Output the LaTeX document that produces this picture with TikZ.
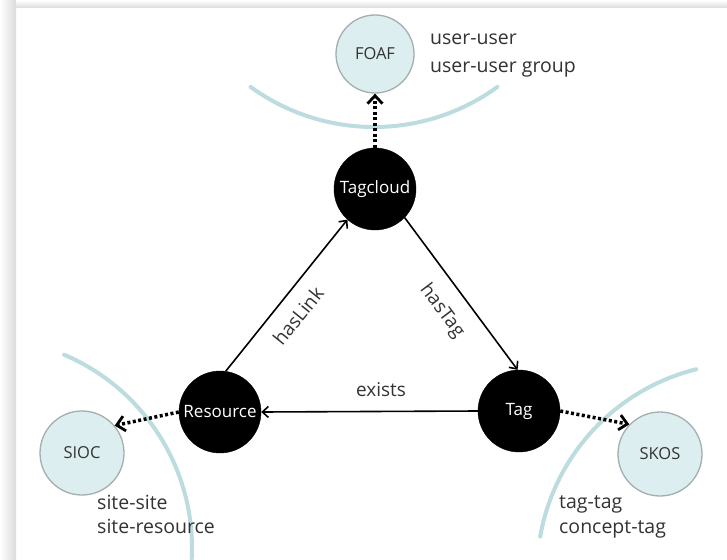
\documentclass[tikz,border=0pt]{standalone}
\usepackage{fontspec}
\setmainfont{Open Sans}
\usetikzlibrary{arrows.meta,calc}
\definecolor{arcc}{HTML}{BCDCDF}
\definecolor{lightfill}{HTML}{DDEEF0}
\definecolor{lightdraw}{HTML}{A3AEAE}
\definecolor{txt}{HTML}{333333}
\begin{document}
\begin{tikzpicture}[x=1pt,y=-1pt,
  core/.style={circle,fill=black,draw=black,minimum size=82pt,inner sep=0pt,text=white,font=\fontsize{17}{20}\selectfont},
  vocab/.style={circle,fill=lightfill,draw=lightdraw,line width=1.3pt,minimum size=84pt,inner sep=0pt,text=txt,font=\fontsize{16.5}{18}\selectfont},
  rel/.style={line width=1.6pt,-{Straight Barb[length=6pt,width=11pt,line width=1.6pt]}},
  maps/.style={line width=3.5pt,dash pattern=on 3pt off 2.5pt,-{Straight Barb[length=8pt,width=15pt,line width=2.8pt]}},
  scopearc/.style={draw=arcc,line width=4pt,line cap=round},
  lbl/.style={text=txt,font=\fontsize{19}{22}\selectfont,inner sep=0pt},
  note/.style={text=txt,inner sep=0pt,anchor=base west,font=\fontsize{19.5}{24}\selectfont}
]
\useasboundingbox (0,0) rectangle (727,559);
\fill[white] (0,0) rectangle (727,559);
\shade[left color=white,right color=black!14] (0,0) rectangle (16,559);
\shade[top color=white,bottom color=black!14] (16,0) rectangle (727,8);

% scope arcs
\draw[scopearc] ($(374,-83)+(234:210pt)$) arc[start angle=234,end angle=306,radius=210pt];
\draw[scopearc] ($(-18,548)+(-3:210pt)$) arc[start angle=-3,end angle=67,radius=210pt];
\draw[scopearc] ($(747,573)+(104:210pt)$) arc[start angle=104,end angle=170,radius=210pt];

% vocabularies
\node[vocab,minimum size=78pt] (foaf) at (375,54) {FOAF};
\node[vocab] (sioc) at (82,453) {SIOC};
\node[vocab] (skos) at (660,454) {SKOS};

% core nodes
\node[core] (tc) at (375,189) {Tagcloud};
\node[core] (res) at (220,412) {Resource};
\node[core] (tag) at (519,411) {Tag};

% relations
\draw[rel] (res.82) -- (tc.228);
\draw[rel] (tc.-44) -- (tag.92);
\draw[rel] (tag.west) -- (res.east);

% mappings
\draw[maps] (tc.north) -- (foaf.south);
\draw[maps] (res.west) -- (sioc.40);
\draw[maps] (tag.east) -- (skos.136);

% relation labels
\node[lbl,rotate=51] (lhaslink) at (298,316) {hasLink};
\node[lbl,rotate=-53] (lhastag) at (442,311) {hasTag};
\node[lbl] (lexists) at (381,390) {exists};

% notes
\node[note] (n1) at (430,45) {user-user};
\node[note] (n2) at (430,73) {user-user group};
\node[note] (n3) at (97,509) {site-site};
\node[note] (n4) at (97,533) {site-resource};
\node[note] (n5) at (559,508) {tag-tag};
\node[note] (n6) at (559,533) {concept-tag};
\end{tikzpicture}
\end{document}
